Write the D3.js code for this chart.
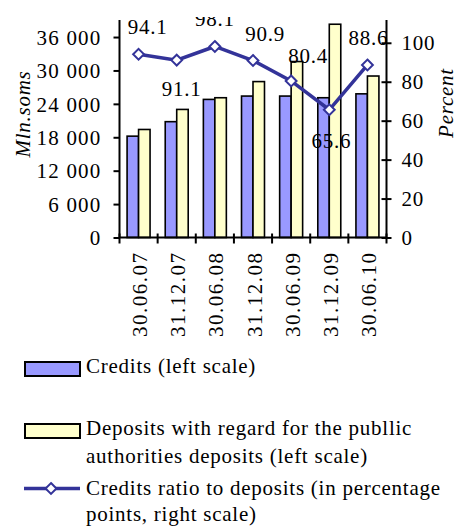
<!DOCTYPE html>
<html>
<head>
<meta charset="utf-8">
<script src="https://cdn.jsdelivr.net/npm/d3@7"></script>
<style>
  body { margin: 0; background: #fff; }
  text { font-family: "Liberation Serif", "Times New Roman", serif; fill: #000; }
</style>
</head>
<body>
<svg id="mainsvg" width="459" height="527"></svg>
<script>
const dates = ['30.06.07','31.12.07','30.06.08','31.12.08','30.06.09','31.12.09','30.06.10']
const credits = [18200, 20800, 24800, 25400, 25400, 25100, 25800]
const deposits = [19400, 23000, 25100, 28000, 31600, 38300, 29000]
const ratio = [94.1, 91.1, 98.1, 90.9, 80.4, 65.6, 88.6]
const leftTicks = [0, 6000, 12000, 18000, 24000, 30000, 36000]
const rightTicks = [0, 20, 40, 60, 80, 100]

// label nudges for the ratio values (dx, dy from the marker)
const labelOff = [[9,-20],[5,36],[0,-20],[12,-20],[17,-18],[2,38],[1,-20]]

const fs = 21
const ls = '0.75px'
const plot = {left: 119.5, right: 386.5, top: 20, bottom: 237.5}

const svg = d3.select('#mainsvg')

const x0 = d3.scaleBand().domain(dates).range([plot.left, plot.right]).padding(0)
const x1 = d3.scaleBand().domain(['credits','deposits'])
    .range([0, x0.bandwidth()]).paddingInner(0).paddingOuter(0.66)
const yL = d3.scaleLinear().domain([0, 39060]).range([plot.bottom, plot.top])
const yR = d3.scaleLinear().domain([0, 111.7]).range([plot.bottom, plot.top])

const fmt = d => d3.format(',')(d).replace(/,/g, ' ')

// bars
const colors = {credits: '#9999ff', deposits: '#ffffcc'}
const g = svg.append('g')
dates.forEach((d, i) => {
    [['credits', credits[i]], ['deposits', deposits[i]]].forEach(([k, v]) => {
        g.append('rect')
        .attr('x', x0(d) + x1(k))
        .attr('y', yL(v))
        .attr('width', x1.bandwidth())
        .attr('height', yL(0) - yL(v))
        .attr('fill', colors[k])
        .attr('stroke', '#000')
        .attr('stroke-width', 1.6)
    })
})

// left axis
const axL = svg.append('g').attr('transform', `translate(${plot.left},0)`)
    .call(d3.axisLeft(yL).tickValues(leftTicks).tickFormat(fmt).tickSize(6).tickPadding(12))
axL.select('.domain').attr('d', `M0,${plot.bottom}V${plot.top}`).attr('stroke-width', 2)
axL.selectAll('.tick line').attr('stroke-width', 2)
axL.selectAll('text').style('font-size', fs + 'px').style('letter-spacing', '1.2px')
    .attr('font-family', null).attr('dy', '0.34em')

// right axis
const axR = svg.append('g').attr('transform', `translate(${plot.right},0)`)
    .call(d3.axisRight(yR).tickValues(rightTicks).tickSize(5).tickPadding(10))
axR.select('.domain').attr('d', `M0,${plot.bottom}V${plot.top}`).attr('stroke-width', 2)
axR.selectAll('.tick line').attr('x1', -5).attr('stroke-width', 2)
axR.selectAll('text').style('font-size', fs + 'px').style('letter-spacing', ls)
    .attr('font-family', null).attr('dy', '0.34em')

// bottom axis: ticks at category boundaries
const xb = svg.append('g')
xb.append('line').attr('x1', plot.left).attr('x2', plot.right)
    .attr('y1', plot.bottom).attr('y2', plot.bottom).attr('stroke', '#000').attr('stroke-width', 2)
dates.concat(['end']).forEach((d, i) => {
    const xx = i < dates.length ? x0(d) : plot.right
    xb.append('line').attr('x1', xx).attr('x2', xx)
      .attr('y1', plot.bottom - 4).attr('y2', plot.bottom + 6).attr('stroke', '#000').attr('stroke-width', 2)
})
dates.forEach(d => {
    const cx = x0(d) + x0.bandwidth() / 2
    xb.append('text')
      .attr('transform', `translate(${cx + 8.5},337) rotate(-90)`)
      .attr('text-anchor', 'start')
      .style('font-size', fs + 'px')
      .style('letter-spacing', '1.5px')
      .text(d)
})

// ratio line
const pts = dates.map((d, i) => [x0(d) + x0.bandwidth() / 2, yR(ratio[i])])
svg.append('path')
    .attr('d', d3.line()(pts))
    .attr('fill', 'none')
    .attr('stroke', '#333399')
    .attr('stroke-width', 3.5)
pts.forEach(p => {
    svg.append('path')
    .attr('d', d3.symbol(d3.symbolDiamond2, 75)())
    .attr('transform', `translate(${p[0]},${p[1]})`)
    .attr('fill', '#fff')
    .attr('stroke', '#333399')
    .attr('stroke-width', 2)
})

// value labels (clipped at the top as in the source)
svg.append('clipPath').attr('id', 'lblclip')
    .append('rect').attr('x', 0).attr('y', 17).attr('width', 459).attr('height', 510)
const lbl = svg.append('g').attr('clip-path', 'url(#lblclip)')
pts.forEach((p, i) => {
    lbl.append('text')
    .attr('x', p[0] + labelOff[i][0])
    .attr('y', p[1] + labelOff[i][1])
    .attr('text-anchor', 'middle')
    .style('font-size', fs + 'px')
    .style('letter-spacing', ls)
    .text(ratio[i].toFixed(1))
})

// axis titles
svg.append('text')
    .attr('transform', 'translate(30,114) rotate(-90)')
    .attr('text-anchor', 'middle')
    .style('font-size', fs + 'px')
    .style('font-style', 'italic')
    .style('letter-spacing', ls)
    .text('Mln.soms')
svg.append('text')
    .attr('transform', 'translate(453,103) rotate(-90)')
    .attr('text-anchor', 'middle')
    .style('font-size', fs + 'px')
    .style('font-style', 'italic')
    .style('letter-spacing', ls)
    .text('Percent')

// legend
const lg = svg.append('g')
const addText = (lines, x, y, lh) => {
    lines.forEach((t, j) => {
        lg.append('text').attr('x', x).attr('y', y + j * lh)
          .style('font-size', fs + 'px').style('letter-spacing', ls).text(t)
    })
}
lg.append('rect').attr('x', 25).attr('y', 362).attr('width', 55).attr('height', 14)
    .attr('fill', colors.credits).attr('stroke', '#000').attr('stroke-width', 2)
addText(['Credits (left scale)'], 86, 373, 28)
lg.append('rect').attr('x', 25).attr('y', 424).attr('width', 55).attr('height', 14)
    .attr('fill', colors.deposits).attr('stroke', '#000').attr('stroke-width', 2)
addText(['Deposits with regard for the publlic', 'authorities deposits (left scale)'], 86, 435, 28)
lg.append('line').attr('x1', 24).attr('x2', 80).attr('y1', 488.5).attr('y2', 488.5)
    .attr('stroke', '#333399').attr('stroke-width', 3.5)
lg.append('path').attr('d', d3.symbol(d3.symbolDiamond2, 75)())
    .attr('transform', 'translate(51,488.5)')
    .attr('fill', '#fff').attr('stroke', '#333399').attr('stroke-width', 2)
addText(['Credits ratio to deposits (in percentage', 'points, right scale)'], 86, 495, 26)
</script>
</body>
</html>
